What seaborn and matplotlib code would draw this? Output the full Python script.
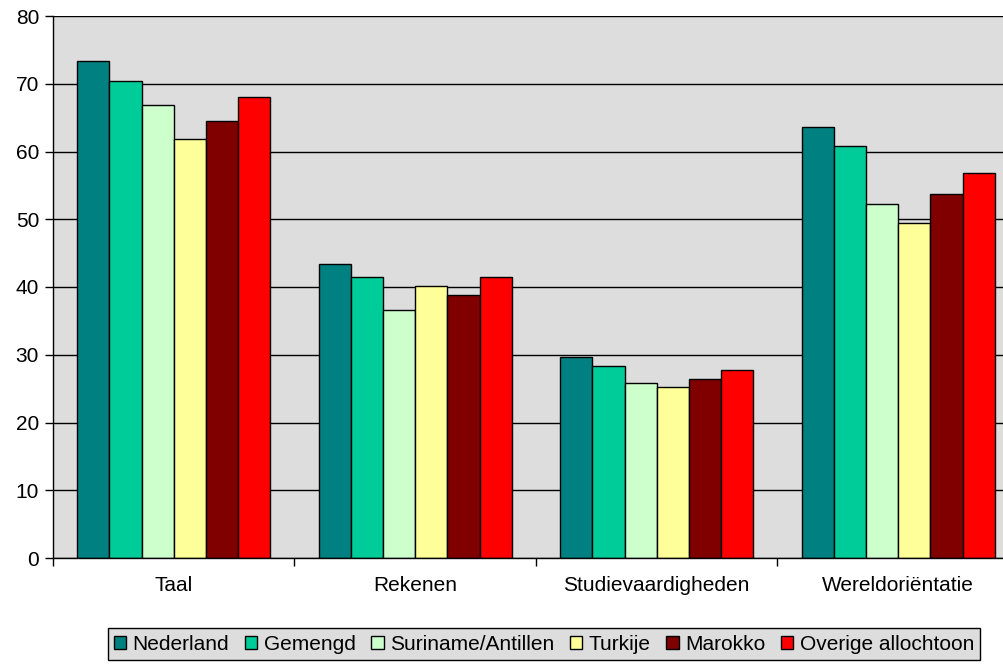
import numpy as np
import pandas as pd
import matplotlib
matplotlib.use("Agg")
import matplotlib.pyplot as plt
import seaborn as sns

# data
categories = ["Taal", "Rekenen", "Studievaardigheden", "Wereldoriëntatie"]
groups = ["Nederland", "Gemengd", "Suriname/Antillen", "Turkije", "Marokko", "Overige allochtoon"]
nederland = [73.4, 43.4, 29.7, 63.6]
gemengd = [70.4, 41.5, 28.3, 60.8]
suriname = [66.9, 36.6, 25.8, 52.3]
turkije = [61.8, 40.1, 25.2, 49.4]
marokko = [64.5, 38.8, 26.4, 53.7]
overige = [68.0, 41.5, 27.7, 56.8]
colors = ["#008080", "#00CC99", "#CCFFCC", "#FFFF99", "#800000", "#FF0000"]

rows = []
for g, vals in zip(groups, [nederland, gemengd, suriname, turkije, marokko, overige]):
    for c, v in zip(categories, vals):
        rows.append({"categorie": c, "groep": g, "score": v})
df = pd.DataFrame(rows)

sns.set_style("white")
plt.rcParams["font.family"] = ["Liberation Sans", "DejaVu Sans"]
plt.rcParams["text.color"] = "black"
plt.rcParams["xtick.color"] = "black"
plt.rcParams["ytick.color"] = "black"

fig = plt.figure(figsize=(10.04, 6.66), dpi=100)
ax = fig.add_axes([53 / 1004, 1 - 558 / 666, 1 - 53 / 1004, 542 / 666])
ax.set_facecolor("#DDDDDD")

sns.barplot(data=df, x="categorie", y="score", hue="groep", order=categories,
            hue_order=groups, palette=colors, width=0.8, gap=0,
            edgecolor="black", linewidth=1, saturation=1, ax=ax, legend=True)

ax.set_ylim(0, 80)
ax.set_xlim(-0.5, 3.438)
ax.set_yticks(range(0, 81, 10))
ax.yaxis.grid(True, color="black", linewidth=1)
ax.set_axisbelow(True)
ax.set_xlabel("")
ax.set_ylabel("")

for s in ["top", "right"]:
    ax.spines[s].set_visible(False)
for s in ["left", "bottom"]:
    ax.spines[s].set_color("black")
    ax.spines[s].set_linewidth(1)

ax.tick_params(axis="y", direction="out", length=6, width=1, color="black",
               labelsize=15, left=True, pad=4, labelcolor="black")
ax.tick_params(axis="x", which="major", length=0, labelsize=15, pad=13,
               labelcolor="black")
ax.set_xticks([-0.5, 0.5, 1.5, 2.5], minor=True)
ax.tick_params(axis="x", which="minor", direction="out", length=6, width=1,
               color="black", bottom=True)

handles, labels = ax.get_legend_handles_labels()
leg = ax.legend(handles, labels, loc="center", bbox_to_anchor=(544 / 1004, 1 - 644 / 666),
                bbox_transform=fig.transFigure, ncol=6, frameon=True, fontsize=15,
                handlelength=0.6, handleheight=0.6, handletextpad=0.3, columnspacing=0.75,
                borderpad=0.3, fancybox=False, edgecolor="black", facecolor="#DDDDDD",
                framealpha=1)
for t in leg.get_texts():
    t.set_color("black")

fig.savefig("out.png", dpi=100, facecolor="white")
